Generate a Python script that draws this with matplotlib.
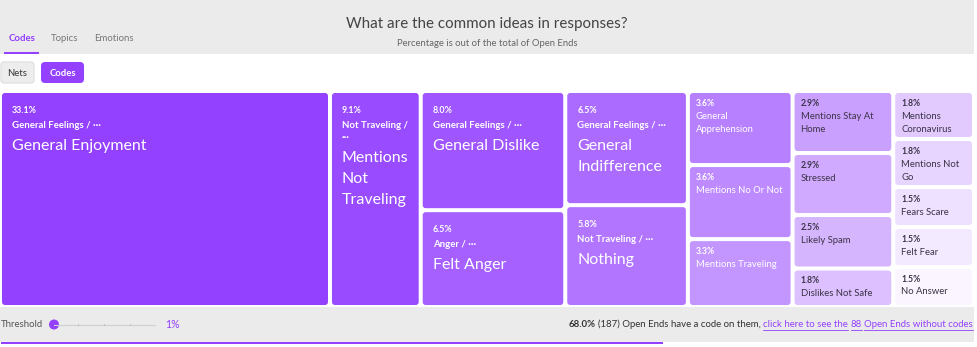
import matplotlib
matplotlib.use("Agg")
import matplotlib.pyplot as plt
from matplotlib.patches import FancyBboxPatch, Rectangle, Circle

# ---------------- data ----------------
TITLE = "What are the common ideas in responses?"
SUBTITLE = "Percentage is out of the total of Open Ends"
TABS = ["Codes", "Topics", "Emotions"]
TOGGLES = ["Nets", "Codes"]

codes = ["General Enjoyment", "Mentions Not Traveling", "General Dislike", "Felt Anger",
         "General Indifference", "Nothing", "General Apprehension", "Mentions No Or Not",
         "Mentions Traveling", "Mentions Stay At Home", "Stressed", "Likely Spam",
         "Dislikes Not Safe", "Mentions Coronavirus", "Mentions Not Go", "Fears Scare",
         "Felt Fear", "No Answer"]
nets = ["General Feelings", "Not Traveling", "General Feelings", "Anger",
        "General Feelings", "Not Traveling", "", "", "", "", "", "", "", "", "", "", "", ""]
percent = [33.1, 9.1, 8.0, 6.5, 6.5, 5.8, 3.6, 3.6, 3.3, 2.9, 2.9, 2.5, 1.8, 1.8, 1.8,
           1.5, 1.5, 1.5]

coded_pct = 68.0
coded_n = 187
uncoded_n = 88
threshold_pct = 1

# ---------------- layout / style settings ----------------
COLUMN_SIZES = [1, 1, 2, 2, 3, 4, 5]   # tiles per treemap column
FONT = ["Lato", "DejaVu Sans"]
PURPLE = "#9340ff"
LIGHT = (250, 245, 255)
DARK_TXT = "#3b3346"
GRAY_BG = "#ebebeb"

W, H = 977, 347
fig = plt.figure(figsize=(W / 100, H / 100), dpi=100)
ax = fig.add_axes([0, 0, 1, 1])
ax.set_xlim(0, W)
ax.set_ylim(H, 0)
ax.axis("off")
renderer = fig.canvas.get_renderer()


def text_width(s, size, weight="normal"):
    t = ax.text(0, 0, s, fontsize=size, fontweight=weight, family=FONT)
    w = t.get_window_extent(renderer).width
    t.remove()
    return w


def wrap(s, size, maxw, weight="normal"):
    words = s.split(" ")
    lines, cur = [], ""
    for wd in words:
        trial = wd if not cur else cur + " " + wd
        if cur and text_width(trial, size, weight) > maxw:
            lines.append(cur)
            cur = wd
        else:
            cur = trial
    if cur:
        lines.append(cur)
    return lines


def color_for(i, n):
    t = i / (n - 1)
    c0 = (147, 64, 255)
    return tuple((c0[k] + t * (LIGHT[k] - c0[k])) / 255 for k in range(3))


def column_treemap(values, counts, x0, y0, x1, y1):
    total = sum(values)
    rects, x, i = [], x0, 0
    for c in counts:
        grp = values[i:i + c]
        s = sum(grp)
        w = (x1 - x0) * s / total
        y = y0
        for v in grp:
            h = (y1 - y0) * v / s
            rects.append((x, y, w, h))
            y += h
        x += w
        i += c
    return rects


# ---------------- header ----------------
ax.add_patch(Rectangle((0, 0), 974, 54, color=GRAY_BG, lw=0))
ax.text(487, 24, TITLE, ha="center", va="center", fontsize=10.9, color="#444444", family=FONT)
ax.text(487, 43.5, SUBTITLE, ha="center", va="center", fontsize=6.8, color="#666666", family=FONT)

tab_x = [22, 65, 114]
for k, (tx, name) in enumerate(zip(tab_x, TABS)):
    ax.text(tx, 38, name, ha="center", va="center", fontsize=6.9,
            fontweight="bold" if k == 0 else "normal",
            color=PURPLE if k == 0 else "#777777", family=FONT)
ax.add_patch(Rectangle((4, 52), 35, 2, color=PURPLE, lw=0))

# toggles
ax.add_patch(FancyBboxPatch((1, 62), 33, 21, boxstyle="round,pad=0,rounding_size=3",
                            fc="#ededed", ec="#e2e2e2", lw=1))
ax.text(17.5, 73, TOGGLES[0], ha="center", va="center", fontsize=6.8, color="#333333", family=FONT)
ax.add_patch(FancyBboxPatch((41, 62), 43, 21, boxstyle="round,pad=0,rounding_size=4",
                            fc=PURPLE, ec="none"))
ax.text(62.5, 73, TOGGLES[1], ha="center", va="center", fontsize=6.8, color="white",
        fontweight="bold", family=FONT)

# ---------------- treemap ----------------
rects = column_treemap(percent, COLUMN_SIZES, 0, 91, 974, 307)
n = len(percent)
gap = 2
for i, (x, y, w, h) in enumerate(rects):
    fc = color_for(i, n)
    tx, ty, tw, th = x + gap, y + gap, w - 2 * gap, h - 2 * gap
    ax.add_patch(FancyBboxPatch((tx, ty), tw, th, boxstyle="round,pad=0,rounding_size=3",
                                fc=fc, ec="none"))
    txt_col = "white" if i < 9 else DARK_TXT
    large = min(tw, th) >= 85
    if large:
        lx = tx + 10
        ax.text(lx, ty + 17, f"{percent[i]:.1f}%", fontsize=6.4, fontweight="bold",
                color=txt_col, va="center", ha="left", family=FONT)
        net_lines = wrap(nets[i] + " / ···", 6.9, tw - 16, "bold")
        yy = ty + 32
        for ln in net_lines:
            ax.text(lx, yy, ln, fontsize=6.9, fontweight="bold", color=txt_col,
                    va="center", ha="left", family=FONT)
            yy += 12
        yy += 9
        for ln in wrap(codes[i], 11.5, tw - 18):
            ax.text(lx, yy, ln, fontsize=11.5, color=txt_col, va="center", ha="left", family=FONT)
            yy += 21
    else:
        lx = tx + 6
        ax.text(lx, ty + 10, f"{percent[i]:.1f}%", fontsize=6.2, fontweight="bold",
                color=txt_col, va="center", ha="left", family=FONT)
        yy = ty + 23
        for ln in wrap(codes[i], 6.8, tw - 10):
            ax.text(lx, yy, ln, fontsize=6.8, color=txt_col, va="center", ha="left", family=FONT)
            yy += 13

# ---------------- footer ----------------
ax.add_patch(Rectangle((0, 307), 974, 35, color=GRAY_BG, lw=0))
ax.add_patch(Rectangle((1, 341.5), 973 * coded_pct / 100, 2.5, color=PURPLE, lw=0))

ax.text(1, 324.5, "Threshold", fontsize=6.9, color="#555555", va="center", ha="left", family=FONT)
ax.plot([54, 155], [324.5, 324.5], color="#d0d0d0", lw=0.8)
for tk in [78, 104, 130]:
    ax.plot([tk, tk], [323.8, 325.2], color="#bbbbbb", lw=0.6)
ax.add_patch(Circle((54, 324.5), 5, color=PURPLE, lw=0))
ax.text(165, 324.5, f"{threshold_pct}%", fontsize=7.6, color=PURPLE, va="center", ha="left", family=FONT)

FS = 6.9
space = text_width("a a", FS) - text_width("aa", FS)
segments = [
    (f"{coded_pct:.1f}%", "bold", "#333333", False),
    (f"({coded_n}) Open Ends have a code on them,", "normal", "#333333", False),
    ("click here to see the", "normal", PURPLE, True),
    (f"{uncoded_n}", "normal", PURPLE, True),
    ("Open Ends without codes", "normal", PURPLE, True),
]
widths = [text_width(s, FS, wt) for s, wt, _, _ in segments]
total_w = sum(widths) + space * (len(segments) - 1)
x = 973 - total_w
for (s, wt, col, link), wd in zip(segments, widths):
    ax.text(x, 324.5, s, fontsize=FS, fontweight=wt, color=col, va="center", ha="left", family=FONT)
    if link:
        ax.plot([x, x + wd], [329.5, 329.5], color=col, lw=0.6)
    x += wd + space

fig.savefig("out.png", dpi=100)
